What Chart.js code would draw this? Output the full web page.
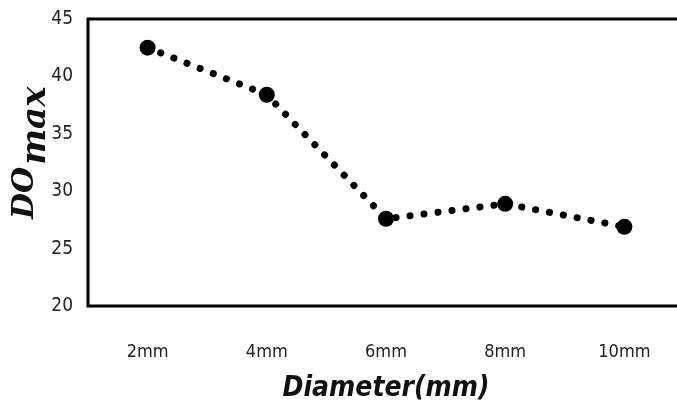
<html>
<head>
<meta http-equiv="content-type" content="text/html; charset=UTF-8" />
<script src="https://cdn.jsdelivr.net/npm/chart.js@4.4.0/dist/chart.umd.min.js"></script>
<style>
  html, body { margin:0; padding:0; background:#fff; overflow:hidden; }
  #wrap { width:692px; height:420px; }
</style>
</head>
<body>
<div id="wrap"><canvas id="doChart"></canvas></div>
<script>
  // values
  var diameters = ['2mm', '4mm', '6mm', '8mm', '10mm'];
  var doMax = [42.5, 38.4, 27.6, 28.9, 26.9];
  var yTicks = [20, 25, 30, 35, 40, 45];

  var tickFont = "'Liberation Sans Narrow', 'DejaVu Sans Condensed', sans-serif";

  // box round the plot + the DO_max title (needs a subscript)
  var boxAndTitle = {
    id: 'boxAndTitle',
    afterDraw: function(chart) {
      var c = chart.ctx, a = chart.chartArea;
      c.save();
      c.strokeStyle = '#000';
      c.lineWidth = 3;
      c.strokeRect(a.left, a.top, a.right - a.left, a.bottom - a.top);
      c.translate(24, 219);
      c.rotate(-Math.PI / 2);
      c.fillStyle = '#111';
      c.textBaseline = 'alphabetic';
      c.font = "italic bold 30px 'DejaVu Serif', 'Liberation Serif', serif";
      c.fillText('DO', 0, 9);
      var w = c.measureText('DO').width;
      c.font = "italic bold 34px 'DejaVu Serif', 'Liberation Serif', serif";
      c.fillText('max', w + 2, 21);
      c.restore();
    }
  };

  new Chart(document.getElementById('doChart'), {
    type: 'line',
    data: {
      labels: diameters,
      datasets: [{
        data: doMax,
        borderColor: '#000',
        backgroundColor: '#000',
        borderWidth: 7,
        borderDash: [0.1, 14],
        borderCapStyle: 'round',
        pointRadius: 8,
        pointBorderWidth: 0,
        pointBackgroundColor: '#000',
        tension: 0,
        fill: false
      }]
    },
    plugins: [boxAndTitle],
    options: {
      responsive: true,
      maintainAspectRatio: false,
      animation: false,
      layout: { padding: { top: 19, right: 0, left: 0, bottom: 0 } },
      plugins: { legend: { display: false }, tooltip: { enabled: false } },
      scales: {
        x: {
          offset: true,
          grid: { display: false, drawTicks: false },
          border: { display: false },
          ticks: { color: '#222', padding: 36, font: { family: tickFont, size: 18 } },
          title: {
            display: true,
            text: 'Diameter(mm)',
            color: '#111',
            padding: { top: 0, bottom: 14 },
            font: { family: tickFont, size: 28, style: 'italic', weight: 'bold' }
          },
          afterFit: function(s) { s.height = 114; }
        },
        y: {
          min: 20,
          max: 45,
          grid: { display: false, drawTicks: false },
          border: { display: false },
          afterBuildTicks: function(s) { s.ticks = yTicks.map(function(v) { return { value: v }; }); },
          ticks: { color: '#222', padding: 15, font: { family: tickFont, size: 19 } },
          afterFit: function(s) { s.width = 88; s.paddingTop = 0; s.paddingBottom = 0; }
        }
      }
    }
  });
</script>
</body>
</html>
